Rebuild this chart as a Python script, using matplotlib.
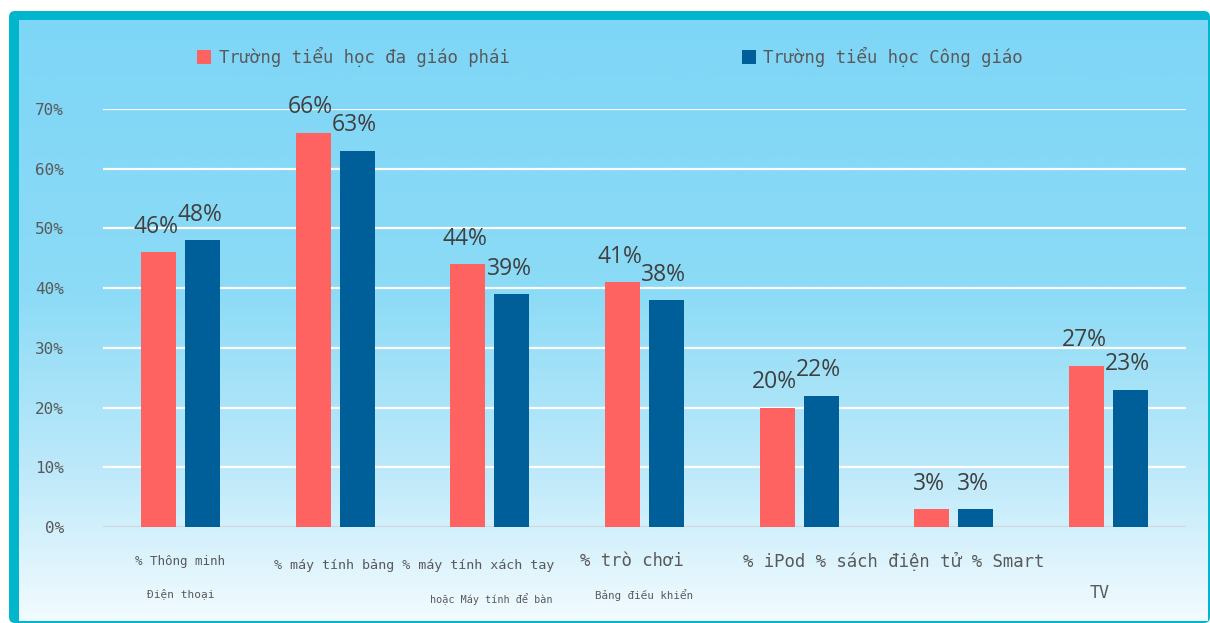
import numpy as np
import matplotlib
matplotlib.use("Agg")
import matplotlib.pyplot as plt
import matplotlib.transforms as mtransforms
from matplotlib.colors import LinearSegmentedColormap
from matplotlib.patches import FancyBboxPatch, Patch

# ---- data -------------------------------------------------------------
series_names = ["Trường tiểu học đa giáo phái", "Trường tiểu học Công giáo"]
multi_faith = [46, 66, 44, 41, 20, 3, 27]
catholic = [48, 63, 39, 38, 22, 3, 23]
y_ticks = [0, 10, 20, 30, 40, 50, 60, 70]

# category captions as they are printed under the axis
category_texts = [
    "% Thông minh",
    "Điện thoại",
    "% máy tính bảng % máy tính xách tay",
    "hoặc Máy tính để bàn",
    "% trò chơi",
    "Bảng điều khiển",
    "% iPod % sách điện tử % Smart",
    "TV",
]

# ---- styling / layout -------------------------------------------------
RED = "#FF6361"
BLUE = "#005F99"
TEAL = "#00B5CC"
TXT = "#595959"
MONO = ["DejaVu Sans Mono", "DejaVu Sans"]

W, H = 1210, 623
fig = plt.figure(figsize=(W / 100, H / 100), dpi=100)

# background frame with gradient fill
bg = fig.add_axes([0, 0, 1, 1], zorder=0)
bg.axis("off")
frame = FancyBboxPatch((9, 11), W - 9, H - 11,
                       boxstyle="round,pad=0,rounding_size=6",
                       facecolor=TEAL, edgecolor="none", zorder=1)
bg.add_patch(frame)
grad_cmap = LinearSegmentedColormap.from_list(
    "sky", [(0.0, "#7ED6F6"), (0.45, "#8CDBF6"), (0.75, "#BDE9FA"), (1.0, "#F2FBFF")])
grad = np.linspace(0, 1, 256).reshape(-1, 1)
bg.imshow(grad, cmap=grad_cmap, aspect="auto", zorder=2,
          extent=(19, W - 2, H - 2, 20), interpolation="bilinear")
bg.set_xlim(0, W)
bg.set_ylim(H, 0)

# main plotting area
left, right = 103 / W, 1186 / W
bottom, top = 1 - 527 / H, 1 - 109 / H
ax = fig.add_axes([left, bottom, right - left, top - bottom], zorder=1)
ax.set_facecolor("none")

n = len(multi_faith)
x = np.arange(n)
bw = 0.226
off = 0.142
b1 = ax.bar(x - off, multi_faith, width=bw, color=RED, zorder=3,
            label=series_names[0])
b2 = ax.bar(x + off, catholic, width=bw, color=BLUE, zorder=3,
            label=series_names[1])

for bars, vals in ((b1, multi_faith), (b2, catholic)):
    for rect, v in zip(bars, vals):
        ax.annotate(f"{v}%", (rect.get_x() + rect.get_width() / 2, v),
                    xytext=(-2, 14), textcoords="offset points",
                    ha="center", va="baseline", fontsize=16.5,
                    family=["Open Sans", "DejaVu Sans"], color="#404040",
                    zorder=4)

ax.set_xlim(-0.5, n - 0.5)
ax.set_ylim(0, 70)
ax.set_yticks(y_ticks)
ax.set_yticklabels([f"{t}%" for t in y_ticks], family=MONO, fontsize=11.5,
                   color=TXT)
ax.tick_params(axis="y", length=0, pad=28)
ax.set_xticks([])
for t in y_ticks[1:]:
    ax.axhline(t, color="white", lw=1.6, zorder=1)
ax.axhline(0, color="#CFD8DC", lw=1.6, zorder=2)
for s in ax.spines.values():
    s.set_visible(False)

# captions under the axis: (x in category units, y in pixels, size)
caption_layout = [
    (0.0, 562, 9.0),
    (0.0, 594, 8.0),
    (1.51, 566, 9.6),
    (2.01, 599, 7.3),
    (2.92, 561, 12.4),
    (3.0, 595, 7.8),
    (4.61, 561, 12.4),
    (5.94, 593, 12.0),
]
cap_tr = mtransforms.blended_transform_factory(ax.transData, fig.transFigure)
for text, (cx, py, fs) in zip(category_texts, caption_layout):
    ax.text(cx, 1 - py / H, text, transform=cap_tr,
            ha="center", va="center", fontsize=fs, family=MONO, color=TXT)

# legend
handles = [Patch(facecolor=RED), Patch(facecolor=BLUE)]
leg = fig.legend(handles, series_names, loc="center",
                 bbox_to_anchor=(610 / W, 1 - 57 / H), ncol=2, frameon=False,
                 prop={"family": MONO, "size": 12.4},
                 handlelength=0.8, handleheight=0.8, handletextpad=0.45,
                 columnspacing=13.5, labelcolor=TXT)

fig.savefig("out.png", dpi=100)
